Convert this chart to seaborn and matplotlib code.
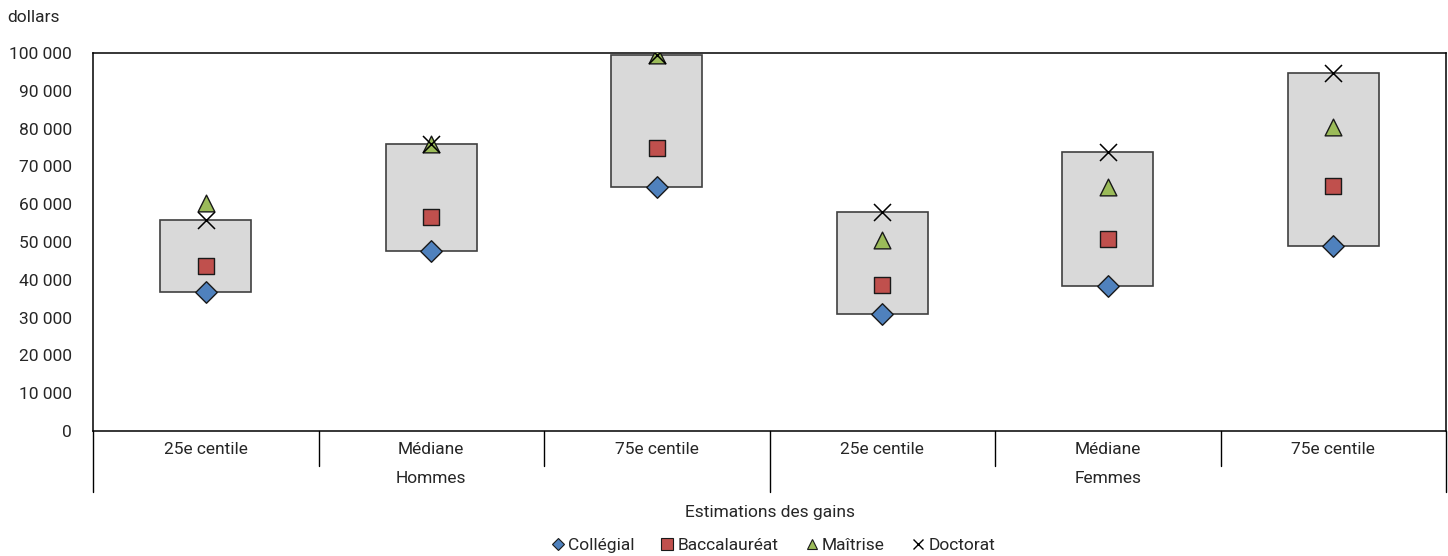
import matplotlib
matplotlib.use("Agg")
import matplotlib.pyplot as plt
from matplotlib.lines import Line2D
import pandas as pd
import seaborn as sns

# categories and values (dollars)
centiles = ["25e centile", "Médiane", "75e centile", "25e centile", "Médiane", "75e centile"]
groupes = ["Hommes", "Femmes"]
collegial = [36700, 47700, 64600, 30900, 38400, 48900]
baccalaureat = [43600, 56700, 74800, 38600, 50700, 64800]
maitrise = [60300, 75900, 99500, 50400, 64600, 80500]
doctorat = [55800, 76000, 99500, 58000, 73900, 94800]
y_ticks = [0, 10000, 20000, 30000, 40000, 50000, 60000, 70000, 80000, 90000, 100000]

sns.set_style("white")
plt.rcParams["font.family"] = ["Roboto", "DejaVu Sans"]
plt.rcParams["font.size"] = 12.5

fig = plt.figure(figsize=(14.48, 5.56), dpi=100)
ax = fig.add_axes([93 / 1448, 1 - 431 / 556, (1446 - 93) / 1448, (431 - 53) / 556])

pos = list(range(len(centiles)))
series = {
    "Collégial": (collegial, "D", "#4F81BD"),
    "Baccalauréat": (baccalaureat, "s", "#C0504D"),
    "Maîtrise": (maitrise, "^", "#9BBB59"),
    "Doctorat": (doctorat, "x", "black"),
}

# gray boxes from Collégial up to Doctorat
heights = [d - c for c, d in zip(collegial, doctorat)]
ax.bar(pos, heights, bottom=collegial, width=0.405, color="#D9D9D9",
       edgecolor="#404040", linewidth=1.2, zorder=1)

for name, (vals, marker, color) in series.items():
    df = pd.DataFrame({"pos": pos, "val": vals})
    if marker == "x":
        sns.scatterplot(data=df, x="pos", y="val", marker="x", color="black",
                        s=150, linewidth=1.1, ax=ax, zorder=3, legend=False)
    else:
        sns.scatterplot(data=df, x="pos", y="val", marker=marker, color=color,
                        s=145 if marker != "D" else 120, edgecolor="#1a1a1a",
                        linewidth=1.0, ax=ax, zorder=3, legend=False)

ax.set_xlim(-0.5, 5.5)
ax.set_ylim(0, 100000)
ax.set_yticks(y_ticks)
ax.set_yticklabels([f"{v:,}".replace(",", " ") for v in y_ticks], fontsize=12.5)
ax.tick_params(axis="y", direction="in", length=6, width=1, color="black", pad=15)
ax.set_xticks([])
ax.set_xlabel("")
ax.set_ylabel("")
for sp in ax.spines.values():
    sp.set_color("black")
    sp.set_linewidth(1.1)
    sp.set_visible(True)

# multi-level category axis
trans = ax.get_xaxis_transform()
for i, lab in enumerate(centiles):
    ax.text(i, -0.05, lab, transform=trans, ha="center", va="center", fontsize=12.5)
for i, g in enumerate(groupes):
    ax.text(1 + 3 * i, -0.125, g, transform=trans, ha="center", va="center", fontsize=12.5)
for xb in [0.5, 1.5, 3.5, 4.5]:
    ax.plot([xb, xb], [0, -0.093], transform=trans, color="black", lw=1, clip_on=False)
for xb in [-0.5, 2.5, 5.5]:
    ax.plot([xb, xb], [0, -0.161], transform=trans, color="black", lw=1, clip_on=False)

fig.text(7 / 1448, 1 - 17 / 556, "dollars", ha="left", va="center", fontsize=12.5)
fig.text(770 / 1448, 1 - 513 / 556, "Estimations des gains", ha="center", va="center", fontsize=12.5)

handles = [
    Line2D([], [], ls="", marker="D", markersize=6, markerfacecolor="#4F81BD", markeredgecolor="#1a1a1a", markeredgewidth=0.8),
    Line2D([], [], ls="", marker="s", markersize=8, markerfacecolor="#C0504D", markeredgecolor="#1a1a1a", markeredgewidth=0.8),
    Line2D([], [], ls="", marker="^", markersize=7, markerfacecolor="#9BBB59", markeredgecolor="#1a1a1a", markeredgewidth=0.8),
    Line2D([], [], ls="", marker="x", markersize=7, color="black", markeredgewidth=1),
]
fig.legend(handles, list(series.keys()), loc="center", bbox_to_anchor=(772 / 1448, 1 - 545 / 556),
           ncol=4, frameon=False, fontsize=12.5, handletextpad=0.1, columnspacing=1.4,
           handlelength=1.0, borderpad=0)

fig.savefig("out.png", dpi=100)
